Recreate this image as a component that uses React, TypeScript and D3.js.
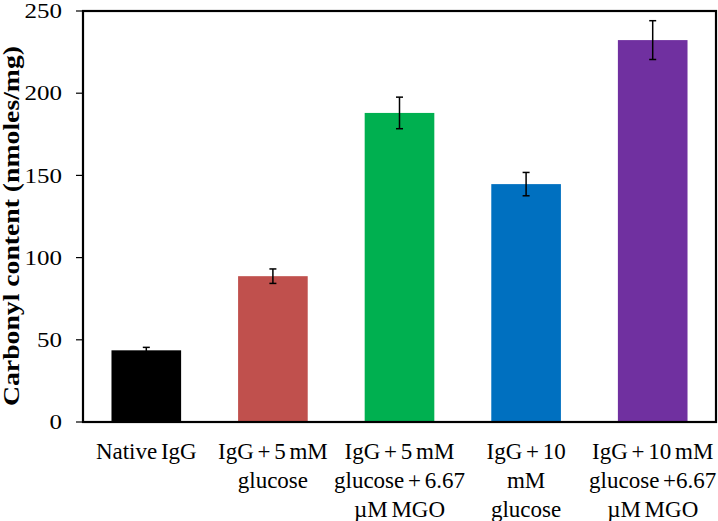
import React from "react";
import * as d3 from "d3";

const categories: string[][] = [
  ["Native IgG"],
  ["IgG + 5 mM", "glucose"],
  ["IgG + 5 mM", "glucose + 6.67", "µM MGO"],
  ["IgG + 10", "mM", "glucose"],
  ["IgG + 10 mM", "glucose +6.67", "µM MGO"],
];
const values = [43.6, 88.7, 188.0, 144.7, 232.3];
const errors = [1.8, 4.4, 9.6, 7.1, 11.8];
const colors = ["#000000", "#C0504D", "#00B050", "#0070C0", "#7030A0"];
const yTicks = [0, 50, 100, 150, 200, 250];

const W = 718;
const H = 521;
const left = 83;
const right = 716;
const top = 11;
const bottom = 422;

export default function App() {
  const x = d3
    .scaleBand<number>()
    .domain(values.map((_, i) => i))
    .range([left, right])
    .paddingInner(0.45)
    .paddingOuter(0.225);
  const y = d3.scaleLinear().domain([0, 250]).range([bottom, top]);
  const font = "'Liberation Serif', 'Times New Roman', serif";

  return (
    <svg
      width={W}
      height={H}
      style={{ position: "absolute", left: 0, top: 0, background: "#fff" }}
    >
      <rect x={0} y={0} width={W} height={H} fill="#fff" />
      {values.map((v, i) => (
        <rect
          key={"b" + i}
          x={x(i)}
          y={y(v)}
          width={x.bandwidth()}
          height={y(0) - y(v)}
          fill={colors[i]}
        />
      ))}
      {values.map((v, i) => {
        const cx = (x(i) as number) + x.bandwidth() / 2;
        return (
          <g key={"e" + i} stroke="#000" strokeWidth={1.5}>
            <line x1={cx} x2={cx} y1={y(v + errors[i])} y2={y(v - errors[i])} />
            <line x1={cx - 3.5} x2={cx + 3.5} y1={y(v + errors[i])} y2={y(v + errors[i])} />
            <line x1={cx - 3.5} x2={cx + 3.5} y1={y(v - errors[i])} y2={y(v - errors[i])} />
          </g>
        );
      })}
      <rect
        x={left}
        y={top}
        width={right - left}
        height={bottom - top}
        fill="none"
        stroke="#000"
        strokeWidth={2.2}
      />
      {yTicks.map((t) => (
        <g key={"t" + t}>
          <line x1={left - 7} x2={left} y1={y(t)} y2={y(t)} stroke="#000" strokeWidth={1.2} />
          <text
            transform={`translate(62, ${y(t)}) scale(1.22, 1)`}
            dy="0.35em"
            textAnchor="end"
            fontFamily={font}
            fontSize={20.5}
            fill="#000"
          >
            {t}
          </text>
        </g>
      ))}
      {categories.map((lines, i) => {
        const cx = (x(i) as number) + x.bandwidth() / 2;
        return (
          <text
            key={"c" + i}
            textAnchor="middle"
            fontFamily={font}
            fontSize={23}
            wordSpacing={-2}
            fill="#000"
          >
            {lines.map((l, j) => (
              <tspan key={j} x={cx} y={459 + j * 29}>
                {l}
              </tspan>
            ))}
          </text>
        );
      })}
      <text
        transform={`translate(19, 226) rotate(-90)`}
        textAnchor="middle"
        fontFamily={font}
        fontWeight="bold"
        fontSize={23}
        textLength={360}
        lengthAdjust="spacingAndGlyphs"
        fill="#000"
      >
        Carbonyl content (nmoles/mg)
      </text>
    </svg>
  );
}
